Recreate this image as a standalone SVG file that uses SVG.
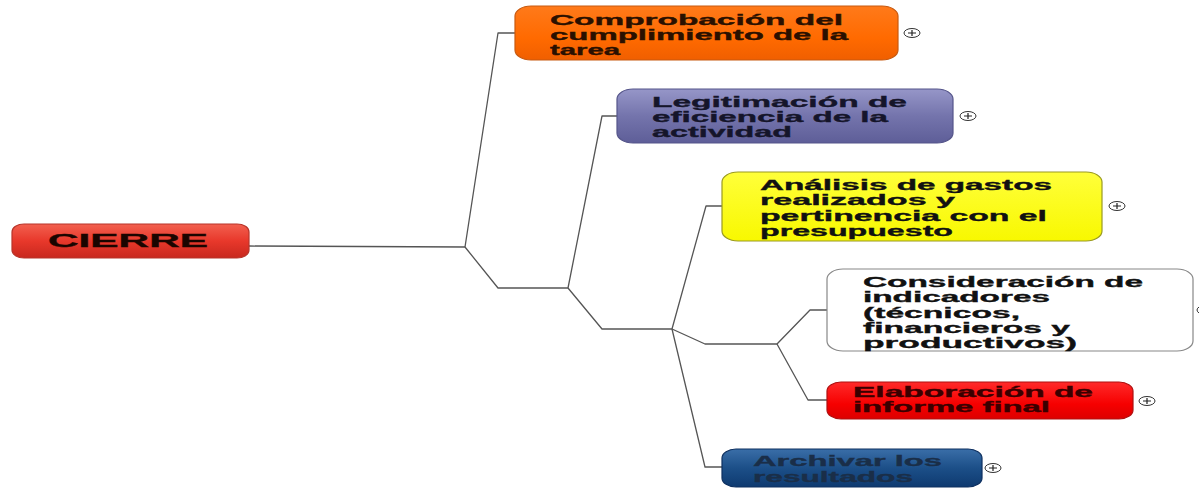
<svg xmlns="http://www.w3.org/2000/svg" width="1199" height="489" viewBox="0 0 1199 489">
<style>
.conn{fill:none;stroke:#555;stroke-width:1.3;stroke-linejoin:round}
.t{font-family:"Liberation Sans",Arial,sans-serif;font-weight:bold;font-size:15px;stroke-width:0.35px;}
.box{stroke-width:1.2}
.plus ellipse{fill:#fff;stroke:#333;stroke-width:1}
.plus path{stroke:#222;stroke-width:1.2}
</style>
<defs>
<linearGradient id="gRed" x1="0" y1="0" x2="0" y2="1"><stop offset="0" stop-color="#f2604f"/><stop offset="0.5" stop-color="#e8382b"/><stop offset="1" stop-color="#c8281e"/></linearGradient>
<linearGradient id="gOrange" x1="0" y1="0" x2="0" y2="1"><stop offset="0" stop-color="#ff7a1a"/><stop offset="0.6" stop-color="#ff6a00"/><stop offset="1" stop-color="#f05f00"/></linearGradient>
<linearGradient id="gPurple" x1="0" y1="0" x2="0" y2="1"><stop offset="0" stop-color="#9696c8"/><stop offset="0.5" stop-color="#7474ac"/><stop offset="1" stop-color="#5e5e98"/></linearGradient>
<linearGradient id="gYellow" x1="0" y1="0" x2="0" y2="1"><stop offset="0" stop-color="#ffff3a"/><stop offset="1" stop-color="#f8f800"/></linearGradient>
<linearGradient id="gRed2" x1="0" y1="0" x2="0" y2="1"><stop offset="0" stop-color="#ff2a2a"/><stop offset="0.6" stop-color="#f60000"/><stop offset="1" stop-color="#dd0000"/></linearGradient>
<linearGradient id="gBlue" x1="0" y1="0" x2="0" y2="1"><stop offset="0" stop-color="#3a6ea8"/><stop offset="0.5" stop-color="#1c4f88"/><stop offset="1" stop-color="#0e3a70"/></linearGradient>
<g id="plus" class="plus"><ellipse cx="0" cy="0" rx="8" ry="4.5"/><path d="M-4,0H4M0,-3V3"/></g>
</defs>
<rect width="1199" height="489" fill="#fff"/>
<g id="connectors">
<path class="conn" d="M249,246 L465,247"/>
<path class="conn" d="M465,247 L498,33 L515,33"/>
<path class="conn" d="M465,247 L498,288 L568,288"/>
<path class="conn" d="M568,288 L602,116 L617,116"/>
<path class="conn" d="M568,288 L602,329 L672,329"/>
<path class="conn" d="M672,329 L706,206 L722,206"/>
<path class="conn" d="M672,329 L705,344 L777,344"/>
<path class="conn" d="M777,344 L810,310 L827,310"/>
<path class="conn" d="M777,344 L808,400 L827,400"/>
<path class="conn" d="M672,329 L705,467 L722,467"/>
</g>
<g id="n-cierre">
<rect class="box" x="12" y="224" width="237" height="34" rx="12" ry="8" fill="url(#gRed)" stroke="#b8352a"/>
<text class="t" x="48" y="247" style="font-size:18px" fill="#1a0500" stroke="#1a0500" textLength="160" lengthAdjust="spacingAndGlyphs">CIERRE</text>
</g>
<g id="n-comprobacion">
<rect class="box" x="515" y="6" width="383" height="54" rx="16" ry="10" fill="url(#gOrange)" stroke="#c85a10"/>
<text class="t" fill="#2a1000" stroke="#2a1000"><tspan x="550" y="25" textLength="293" lengthAdjust="spacingAndGlyphs">Comprobación del</tspan><tspan x="550" y="40" textLength="298" lengthAdjust="spacingAndGlyphs">cumplimiento de la</tspan><tspan x="550" y="55" textLength="70" lengthAdjust="spacingAndGlyphs">tarea</tspan></text>
<use href="#plus" x="912" y="33"/>
</g>
<g id="n-legitimacion">
<rect class="box" x="617" y="89" width="336" height="54" rx="16" ry="10" fill="url(#gPurple)" stroke="#55558a"/>
<text class="t" fill="#15152a" stroke="#15152a"><tspan x="652" y="107" textLength="255" lengthAdjust="spacingAndGlyphs">Legitimación de</tspan><tspan x="652" y="122" textLength="236" lengthAdjust="spacingAndGlyphs">eficiencia de la</tspan><tspan x="652" y="137" textLength="140" lengthAdjust="spacingAndGlyphs">actividad</tspan></text>
<use href="#plus" x="968" y="116"/>
</g>
<g id="n-analisis">
<rect class="box" x="722" y="172" width="380" height="69" rx="16" ry="10" fill="url(#gYellow)" stroke="#9a9a20"/>
<text class="t" fill="#111" stroke="#111"><tspan x="760" y="190" textLength="292" lengthAdjust="spacingAndGlyphs">Análisis de gastos</tspan><tspan x="760" y="205" textLength="195" lengthAdjust="spacingAndGlyphs">realizados y</tspan><tspan x="760" y="221" textLength="287" lengthAdjust="spacingAndGlyphs">pertinencia con el</tspan><tspan x="760" y="236" textLength="193" lengthAdjust="spacingAndGlyphs">presupuesto</tspan></text>
<use href="#plus" x="1117" y="206"/>
</g>
<g id="n-consideracion">
<rect class="box" x="827" y="269" width="366" height="82" rx="16" ry="10" fill="#fff" stroke="#888"/>
<text class="t" fill="#111" stroke="#111"><tspan x="863" y="287" textLength="280" lengthAdjust="spacingAndGlyphs">Consideración de</tspan><tspan x="863" y="302" textLength="187" lengthAdjust="spacingAndGlyphs">indicadores</tspan><tspan x="863" y="318" textLength="157" lengthAdjust="spacingAndGlyphs">(técnicos,</tspan><tspan x="863" y="333" textLength="207" lengthAdjust="spacingAndGlyphs">financieros y</tspan><tspan x="863" y="348" textLength="214" lengthAdjust="spacingAndGlyphs">productivos)</tspan></text>
<use href="#plus" x="1205" y="310"/>
</g>
<g id="n-elaboracion">
<rect class="box" x="827" y="382" width="306" height="37" rx="14" ry="9" fill="url(#gRed2)" stroke="#b01010"/>
<text class="t" fill="#3a0000" stroke="#3a0000"><tspan x="853" y="397" textLength="240" lengthAdjust="spacingAndGlyphs">Elaboración de</tspan><tspan x="853" y="412" textLength="197" lengthAdjust="spacingAndGlyphs">informe final</tspan></text>
<use href="#plus" x="1147" y="401"/>
</g>
<g id="n-archivar">
<rect class="box" x="722" y="449" width="260" height="38" rx="14" ry="9" fill="url(#gBlue)" stroke="#0e3060"/>
<text class="t" fill="#1a2e48" stroke="#1a2e48"><tspan x="753" y="466" textLength="189" lengthAdjust="spacingAndGlyphs">Archivar los</tspan><tspan x="753" y="482" textLength="160" lengthAdjust="spacingAndGlyphs">resultados</tspan></text>
<use href="#plus" x="993" y="468"/>
</g>
</svg>
